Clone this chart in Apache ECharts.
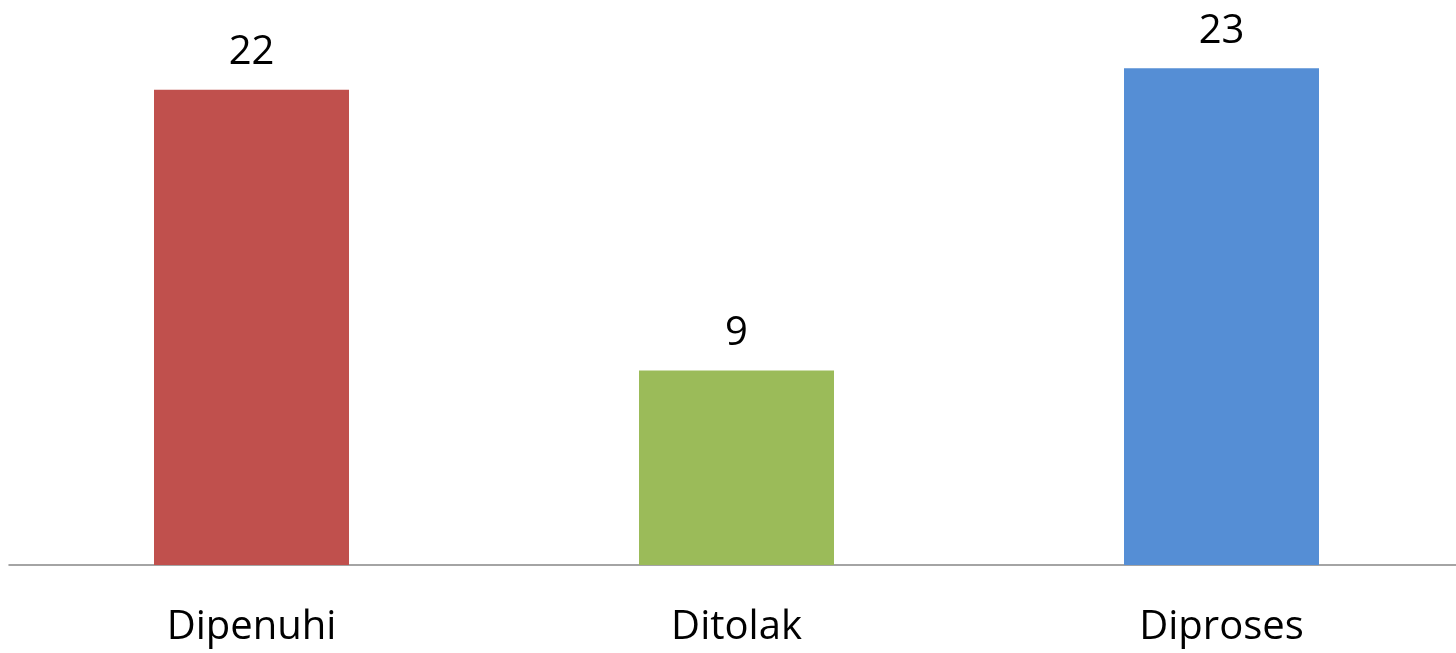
<!DOCTYPE html>
<html>
<head>
<meta charset="utf-8">
<script src="https://cdn.jsdelivr.net/npm/echarts@6/dist/echarts.min.js"></script>
<style>html,body{margin:0;padding:0;background:#fff;overflow:hidden;}#c{width:1464px;height:653px;}</style>
</head>
<body>
<div id="c"></div>
<script>
const categories = ["Dipenuhi", "Ditolak", "Diproses"];
const values = [22, 9, 23];
const colors = ["#C0504D", "#9BBB59", "#558ED5"];

const chart = echarts.init(document.getElementById('c'));
chart.setOption({
  animation: false,
  grid: { left: 9, right: 0, top: 25, bottom: 88, containLabel: false },
  xAxis: {
    type: 'category',
    data: categories,
    axisLine: { lineStyle: { color: '#868686', width: 1.5 } },
    axisTick: { show: false },
    axisLabel: { fontFamily: 'Open Sans', fontSize: 40, color: '#000', margin: 43 }
  },
  yAxis: {
    type: 'value', min: 0, max: 25,
    show: false,
    splitLine: { show: false }
  },
  series: [{
    type: 'bar',
    barWidth: 195,
    data: values.map((v, i) => ({ value: v, itemStyle: { color: colors[i] } })),
    label: { show: true, position: 'top', distance: 17, fontFamily: 'Open Sans', fontSize: 40, color: '#000' }
  }]
});
</script>
</body>
</html>
